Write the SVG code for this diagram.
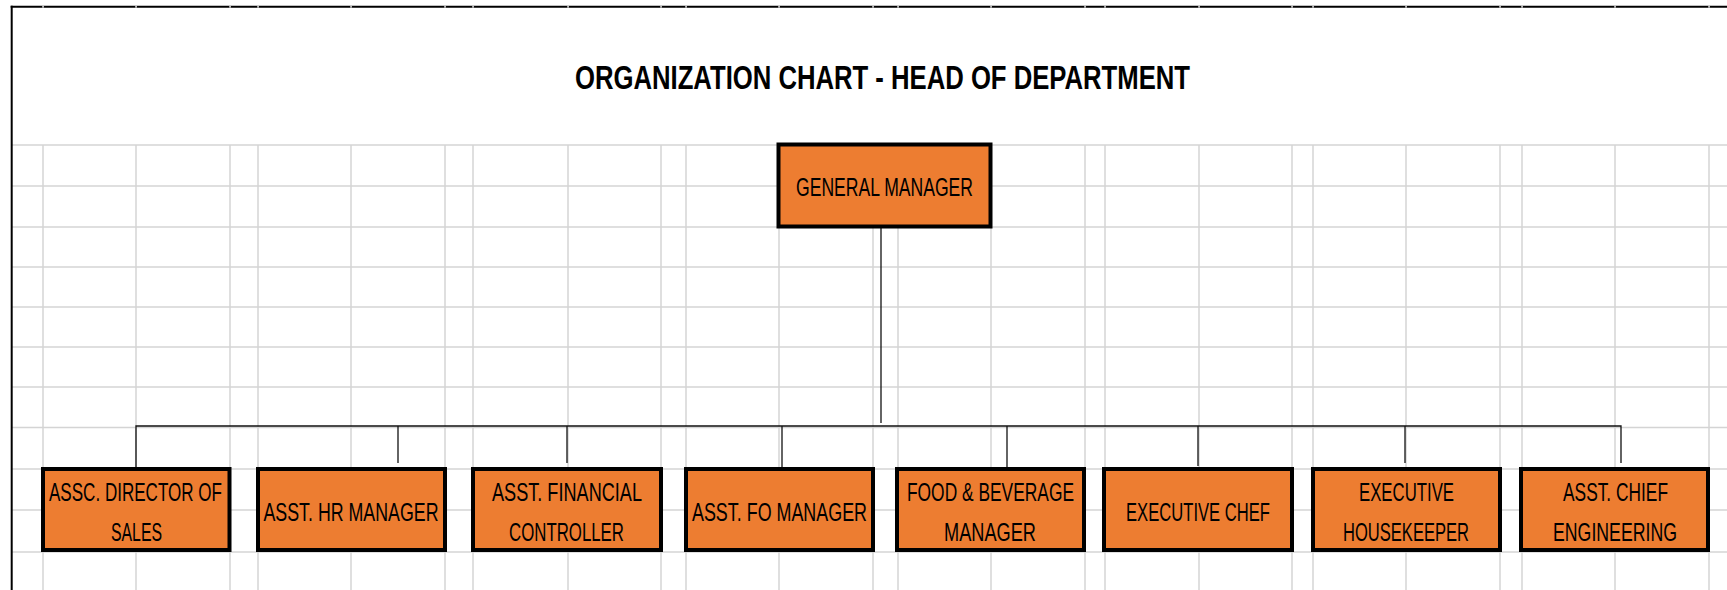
<svg xmlns="http://www.w3.org/2000/svg" width="1727" height="590" viewBox="0 0 1727 590">
  <style>
    .grid line { stroke: #d4d4d4; stroke-width: 1.5; }
    .box { fill: #ed7d31; stroke: #000; stroke-width: 4; }
    .lbl { font-family: "Liberation Sans Narrow", "Liberation Sans", Arial, sans-serif; font-size: 25px; fill: #000; text-anchor: middle; }
    .title { font-family: "Liberation Sans", Arial, sans-serif; font-size: 33.5px; font-weight: bold; fill: #000; text-anchor: middle; }
    .conn line { stroke: #111; stroke-width: 1.3; fill: none; }
  </style>
  <rect x="0" y="0" width="1727" height="590" fill="#fff"/>
  <g class="grid" id="grid">
    <line x1="12" y1="145" x2="1727" y2="145"/>
    <line x1="12" y1="186" x2="1727" y2="186"/>
    <line x1="12" y1="227" x2="1727" y2="227"/>
    <line x1="12" y1="267" x2="1727" y2="267"/>
    <line x1="12" y1="307" x2="1727" y2="307"/>
    <line x1="12" y1="347" x2="1727" y2="347"/>
    <line x1="12" y1="387" x2="1727" y2="387"/>
    <line x1="12" y1="427.5" x2="1727" y2="427.5"/>
    <line x1="12" y1="469" x2="1727" y2="469"/>
    <line x1="12" y1="510" x2="1727" y2="510"/>
    <line x1="12" y1="552" x2="1727" y2="552"/>
    <line x1="43" y1="145" x2="43" y2="590"/>
    <line x1="136" y1="145" x2="136" y2="590"/>
    <line x1="230" y1="145" x2="230" y2="590"/>
    <line x1="258" y1="145" x2="258" y2="590"/>
    <line x1="351" y1="145" x2="351" y2="590"/>
    <line x1="445" y1="145" x2="445" y2="590"/>
    <line x1="473" y1="145" x2="473" y2="590"/>
    <line x1="568" y1="145" x2="568" y2="590"/>
    <line x1="661" y1="145" x2="661" y2="590"/>
    <line x1="686" y1="145" x2="686" y2="590"/>
    <line x1="779" y1="145" x2="779" y2="590"/>
    <line x1="873" y1="145" x2="873" y2="590"/>
    <line x1="898" y1="145" x2="898" y2="590"/>
    <line x1="991" y1="145" x2="991" y2="590"/>
    <line x1="1085" y1="145" x2="1085" y2="590"/>
    <line x1="1105" y1="145" x2="1105" y2="590"/>
    <line x1="1199" y1="145" x2="1199" y2="590"/>
    <line x1="1292" y1="145" x2="1292" y2="590"/>
    <line x1="1313" y1="145" x2="1313" y2="590"/>
    <line x1="1406" y1="145" x2="1406" y2="590"/>
    <line x1="1500" y1="145" x2="1500" y2="590"/>
    <line x1="1522" y1="145" x2="1522" y2="590"/>
    <line x1="1615" y1="145" x2="1615" y2="590"/>
    <line x1="1709" y1="145" x2="1709" y2="590"/>
  </g>
  <g id="frame">
    <line x1="11.7" y1="5.7" x2="11.7" y2="590" stroke="#000" stroke-width="2"/>
    <line x1="10.7" y1="6.7" x2="1727" y2="6.7" stroke="#000" stroke-width="2"/>
    <g fill="#e6e6e6">
      <rect x="42.3" y="5.7" width="1.5" height="2"/>
      <rect x="135.3" y="5.7" width="1.5" height="2"/>
      <rect x="229.3" y="5.7" width="1.5" height="2"/>
      <rect x="257.3" y="5.7" width="1.5" height="2"/>
      <rect x="350.3" y="5.7" width="1.5" height="2"/>
      <rect x="444.3" y="5.7" width="1.5" height="2"/>
      <rect x="472.3" y="5.7" width="1.5" height="2"/>
      <rect x="567.3" y="5.7" width="1.5" height="2"/>
      <rect x="660.3" y="5.7" width="1.5" height="2"/>
      <rect x="685.3" y="5.7" width="1.5" height="2"/>
      <rect x="778.3" y="5.7" width="1.5" height="2"/>
      <rect x="872.3" y="5.7" width="1.5" height="2"/>
      <rect x="897.3" y="5.7" width="1.5" height="2"/>
      <rect x="990.3" y="5.7" width="1.5" height="2"/>
      <rect x="1084.3" y="5.7" width="1.5" height="2"/>
      <rect x="1104.3" y="5.7" width="1.5" height="2"/>
      <rect x="1198.3" y="5.7" width="1.5" height="2"/>
      <rect x="1291.3" y="5.7" width="1.5" height="2"/>
      <rect x="1312.3" y="5.7" width="1.5" height="2"/>
      <rect x="1405.3" y="5.7" width="1.5" height="2"/>
      <rect x="1499.3" y="5.7" width="1.5" height="2"/>
      <rect x="1521.3" y="5.7" width="1.5" height="2"/>
      <rect x="1614.3" y="5.7" width="1.5" height="2"/>
      <rect x="1708.3" y="5.7" width="1.5" height="2"/>
    </g>
  </g>
  <text class="title" x="882.5" y="89" textLength="615" lengthAdjust="spacingAndGlyphs">ORGANIZATION CHART - HEAD OF DEPARTMENT</text>
  <g class="conn" id="connectors">
    <line x1="881" y1="227" x2="881" y2="423"/>
    <polyline points="136,468 136,426 1621,426 1621,463" fill="none" stroke="#111" stroke-width="1.3"/>
    <line x1="398" y1="426" x2="398" y2="463"/>
    <line x1="567" y1="426" x2="567" y2="463"/>
    <line x1="782" y1="426" x2="782" y2="468"/>
    <line x1="1007" y1="426" x2="1007" y2="468"/>
    <line x1="1198" y1="426" x2="1198" y2="466"/>
    <line x1="1405" y1="426" x2="1405" y2="463"/>
  </g>
  <g id="gm">
    <rect class="box" x="778.5" y="144.5" width="212" height="82"/>
    <text class="lbl" x="884.5" y="196" textLength="177" lengthAdjust="spacingAndGlyphs">GENERAL MANAGER</text>
  </g>
  <g id="sales">
    <rect class="box" x="43" y="469" width="186.5" height="81"/>
    <text class="lbl" x="135.5" y="501" textLength="173" lengthAdjust="spacingAndGlyphs">ASSC. DIRECTOR OF</text>
    <text class="lbl" x="136.5" y="541" textLength="51" lengthAdjust="spacingAndGlyphs">SALES</text>
  </g>
  <g id="hr">
    <rect class="box" x="258" y="469" width="187" height="81"/>
    <text class="lbl" x="351" y="521" textLength="175" lengthAdjust="spacingAndGlyphs">ASST. HR MANAGER</text>
  </g>
  <g id="finance">
    <rect class="box" x="473" y="469" width="188" height="81"/>
    <text class="lbl" x="567" y="501" textLength="150" lengthAdjust="spacingAndGlyphs">ASST. FINANCIAL</text>
    <text class="lbl" x="566.5" y="541" textLength="115" lengthAdjust="spacingAndGlyphs">CONTROLLER</text>
  </g>
  <g id="fo">
    <rect class="box" x="686" y="469" width="187" height="81"/>
    <text class="lbl" x="779.5" y="521" textLength="175" lengthAdjust="spacingAndGlyphs">ASST. FO MANAGER</text>
  </g>
  <g id="fb">
    <rect class="box" x="897" y="469" width="187" height="81"/>
    <text class="lbl" x="990.5" y="501" textLength="167" lengthAdjust="spacingAndGlyphs">FOOD &amp; BEVERAGE</text>
    <text class="lbl" x="990" y="541" textLength="92" lengthAdjust="spacingAndGlyphs">MANAGER</text>
  </g>
  <g id="chef">
    <rect class="box" x="1104" y="469" width="188" height="81"/>
    <text class="lbl" x="1198" y="521" textLength="144" lengthAdjust="spacingAndGlyphs">EXECUTIVE CHEF</text>
  </g>
  <g id="housekeeper">
    <rect class="box" x="1313" y="469" width="187" height="81"/>
    <text class="lbl" x="1406.5" y="501" textLength="95" lengthAdjust="spacingAndGlyphs">EXECUTIVE</text>
    <text class="lbl" x="1406" y="541" textLength="126" lengthAdjust="spacingAndGlyphs">HOUSEKEEPER</text>
  </g>
  <g id="engineering">
    <rect class="box" x="1521" y="469" width="187" height="81"/>
    <text class="lbl" x="1615.5" y="501" textLength="105" lengthAdjust="spacingAndGlyphs">ASST. CHIEF</text>
    <text class="lbl" x="1615" y="541" textLength="124" lengthAdjust="spacingAndGlyphs">ENGINEERING</text>
  </g>
</svg>
